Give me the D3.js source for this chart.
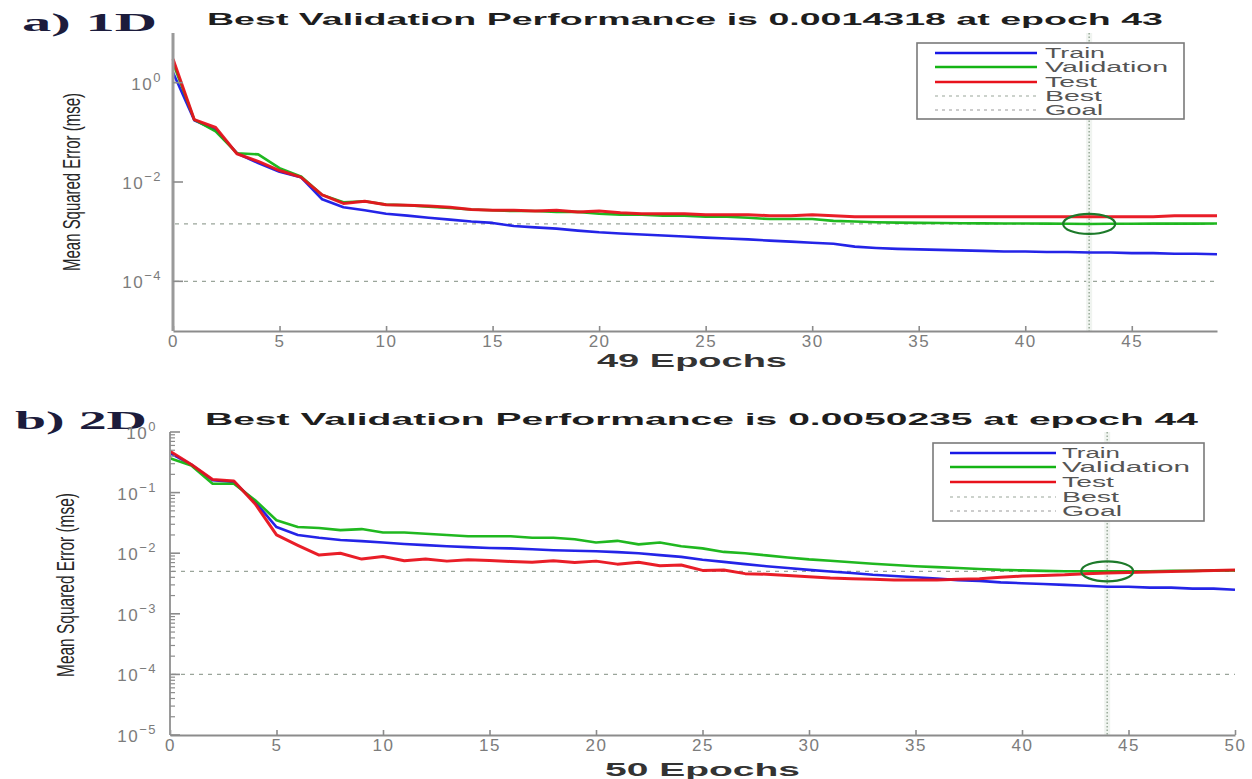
<!DOCTYPE html>
<html>
<head>
<meta charset="utf-8">
<script src="https://cdn.jsdelivr.net/npm/d3@7"></script>
<style>
  html, body { margin: 0; padding: 0; background: #fff; }
  svg { display: block; }
  text { font-family: "Liberation Sans", Arial, Helvetica, sans-serif; }
</style>
</head>
<body>
<svg id="chart" width="1252" height="779"></svg>
<script>
// ---- Panel a (1D): 49 epochs ----
const epochsA = d3.range(0, 50);
const trainA = [1.6, 0.175, 0.112, 0.038, 0.024, 0.016, 0.0125, 0.0045, 0.0031, 0.0027,
  0.0023, 0.0021, 0.0019, 0.00175, 0.0016, 0.0015, 0.0013, 0.00122, 0.00115, 0.00105,
  0.00097, 0.00092, 0.00088, 0.00084, 0.0008, 0.00076, 0.00073, 0.0007, 0.00066, 0.00063,
  0.0006, 0.00057, 0.0005, 0.00047, 0.00045, 0.00044, 0.00043, 0.00042, 0.00041, 0.0004,
  0.0004, 0.00039, 0.00039, 0.00038, 0.00038, 0.00037, 0.00037, 0.00036, 0.00036, 0.00035];
const validA = [2.5, 0.18, 0.105, 0.038, 0.036, 0.019, 0.013, 0.0055, 0.0039, 0.0041,
  0.0035, 0.0034, 0.0032, 0.003, 0.0028, 0.0027, 0.0026, 0.0026, 0.0025, 0.0025,
  0.0023, 0.0022, 0.0022, 0.0021, 0.0021, 0.002, 0.002, 0.0019, 0.0018, 0.0018,
  0.0018, 0.00165, 0.0016, 0.00155, 0.00152, 0.0015, 0.00149, 0.00148, 0.00147, 0.00146,
  0.00146, 0.00145, 0.00144, 0.0014318, 0.00144, 0.00144, 0.00145, 0.00145, 0.00145, 0.00146];
const testA = [3.0, 0.18, 0.125, 0.037, 0.026, 0.017, 0.0125, 0.0055, 0.0037, 0.0041,
  0.0035, 0.0034, 0.0033, 0.0031, 0.0028, 0.0027, 0.0027, 0.0026, 0.0027, 0.0025,
  0.0026, 0.0024, 0.0023, 0.0023, 0.0023, 0.0022, 0.0022, 0.0022, 0.0021, 0.0021,
  0.0022, 0.0021, 0.002, 0.002, 0.002, 0.002, 0.002, 0.002, 0.002, 0.002,
  0.002, 0.002, 0.002, 0.002, 0.002, 0.002, 0.002, 0.0021, 0.0021, 0.0021];
const bestEpochA = 43, bestValA = 0.0014318, goalA = 1e-4;

// ---- Panel b (2D): 50 epochs ----
const epochsB = d3.range(0, 51);
const trainB = [0.45, 0.29, 0.16, 0.15, 0.07, 0.027, 0.02, 0.018, 0.0165, 0.0158,
  0.015, 0.0142, 0.0136, 0.013, 0.0126, 0.0122, 0.012, 0.0116, 0.0112, 0.011,
  0.0108, 0.0104, 0.01, 0.0093, 0.0087, 0.0078, 0.0072, 0.0066, 0.0061, 0.0057,
  0.0053, 0.005, 0.0047, 0.0044, 0.0042, 0.004, 0.0038, 0.0036, 0.0035, 0.0033,
  0.0032, 0.0031, 0.003, 0.0029, 0.0028, 0.0028, 0.0027, 0.0027, 0.0026, 0.0026, 0.0025];
const validB = [0.37, 0.28, 0.14, 0.14, 0.075, 0.035, 0.027, 0.026, 0.024, 0.025,
  0.022, 0.022, 0.021, 0.02, 0.019, 0.019, 0.019, 0.018, 0.018, 0.017,
  0.015, 0.016, 0.014, 0.015, 0.013, 0.012, 0.0105, 0.01, 0.0092, 0.0085,
  0.0079, 0.0075, 0.0071, 0.0067, 0.0064, 0.0061, 0.0059, 0.0057, 0.0055, 0.0053,
  0.0052, 0.0051, 0.00505, 0.00503, 0.0050235, 0.00503, 0.00505, 0.0051, 0.0051, 0.0052, 0.0052];
const testB = [0.48, 0.29, 0.165, 0.155, 0.065, 0.02, 0.0135, 0.0093, 0.01, 0.008,
  0.0088, 0.0075, 0.008, 0.0074, 0.0078, 0.0076, 0.0073, 0.0071, 0.0075, 0.007,
  0.0074, 0.0066, 0.0071, 0.0062, 0.0064, 0.0052, 0.0053, 0.0046, 0.0045, 0.0043,
  0.0041, 0.0039, 0.0038, 0.0037, 0.0036, 0.0036, 0.0036, 0.0037, 0.0038, 0.004,
  0.0042, 0.0043, 0.0044, 0.0046, 0.0047, 0.0048, 0.0049, 0.005, 0.0051, 0.0052, 0.0053];
const bestEpochB = 44, bestValB = 0.0050235, goalB = 1e-4;

const legendLabels = ["Train", "Validation", "Test", "Best", "Goal"];
const seriesColors = { train: "#1818e6", valid: "#14b414", test: "#e8121c" };

const svg = d3.select("#chart");

function drawPanel(p) {
  const g = svg.append("g");
  const x = d3.scaleLinear().domain(p.xDomain).range([p.left, p.right]);
  const y = d3.scaleLog().domain(p.yDomain).range([p.bottom, p.top]);

  // panel tag
  g.append("text").attr("x", p.tagX).attr("y", p.tagY)
    .attr("textLength", p.tagW).attr("lengthAdjust", "spacingAndGlyphs")
    .style("font-family", "'Liberation Serif', 'DejaVu Serif', serif")
    .style("font-weight", "bold").style("font-size", "25px").style("fill", "#1c1c3c")
    .text(p.tag);

  // title
  g.append("text").attr("x", p.titleX).attr("y", p.titleY)
    .attr("textLength", p.titleW).attr("lengthAdjust", "spacingAndGlyphs")
    .style("font-weight", "bold").style("font-size", "17px").style("fill", "#1e1e1e")
    .text(p.title);

  // goal and best horizontal references
  [p.best, p.goal].forEach(v => {
    g.append("line").attr("x1", p.left + 2).attr("x2", p.right)
      .attr("y1", y(v)).attr("y2", y(v))
      .style("stroke", "#9aa59a").style("stroke-width", 1.3).style("stroke-dasharray", "4,5");
  });

  // best epoch vertical marker
  g.append("rect").attr("x", x(p.bestEpoch) - 3).attr("y", p.top).attr("width", 6)
    .attr("height", p.bottom - p.top).style("fill", "#f0f4f0");
  g.append("line").attr("x1", x(p.bestEpoch)).attr("x2", x(p.bestEpoch))
    .attr("y1", p.top).attr("y2", p.bottom)
    .style("stroke", "#9aab9a").style("stroke-width", 1.5).style("stroke-dasharray", "1.5,2");

  // series
  const line = d3.line().x((d, i) => x(p.epochs[i])).y(d => y(d));
  [["train", p.train, 2.6], ["valid", p.valid, 2.6], ["test", p.test, 3.0]].forEach(([k, vals, w]) => {
    g.append("path").datum(vals).attr("d", line)
      .style("fill", "none").style("stroke", seriesColors[k]).style("stroke-width", w)
      .style("stroke-linejoin", "round").style("opacity", 0.95);
  });

  // best point circle
  g.append("ellipse").attr("cx", x(p.bestEpoch)).attr("cy", y(p.best))
    .attr("rx", 26).attr("ry", 10)
    .style("fill", "none").style("stroke", "#1d7a2a").style("stroke-width", 2.2);

  // x axis
  const xAxis = d3.axisBottom(x).tickValues(p.xTicks).tickSize(0).tickPadding(4).tickFormat(d3.format("d"));
  const gx = g.append("g").attr("transform", `translate(0,${p.bottom})`).call(xAxis);
  gx.select(".domain").style("stroke", "#8c8c8c").style("stroke-width", 2);
  gx.selectAll(".tick text").style("font-size", "17px").style("fill", "#7c7c7c")
    .style("letter-spacing", "1.5px").style("font-family", "'Liberation Sans', Arial, sans-serif");
  gx.selectAll(".tick").append("line").attr("y1", 0).attr("y2", -5)
    .style("stroke", "#8c8c8c").style("stroke-width", 1.6);

  // y axis line
  g.append("line").attr("x1", p.left).attr("x2", p.left).attr("y1", p.top).attr("y2", p.bottom)
    .style("stroke", "#9a9a9a").style("stroke-width", p.yAxisWidth);

  // y ticks
  p.yMajor.forEach(e => {
    const yy = y(Math.pow(10, e));
    g.append("line").attr("x1", p.left).attr("x2", p.left + 10).attr("y1", yy).attr("y2", yy)
      .style("stroke", "#8c8c8c").style("stroke-width", 1.6);
    const t = g.append("text").attr("x", p.yLabelX).attr("y", yy + 7)
      .attr("text-anchor", "end").style("font-size", "17px").style("fill", "#7c7c7c")
      .style("letter-spacing", "1.5px");
    t.append("tspan").text("10");
    t.append("tspan").attr("dy", -8).style("font-size", "13px").text(e === 0 ? "0" : "\u2212" + Math.abs(e));
  });
  if (p.minor) {
    for (let e = Math.round(Math.log10(p.yDomain[0])); e < Math.round(Math.log10(p.yDomain[1])); e++) {
      for (let m = 2; m <= 9; m++) {
        const yy = y(m * Math.pow(10, e));
        g.append("line").attr("x1", p.left).attr("x2", p.left + 5).attr("y1", yy).attr("y2", yy)
          .style("stroke", "#8c8c8c").style("stroke-width", 1.2);
      }
    }
  }

  // y axis label: condensed by a horizontal scale so it fits the axis height
  const yt = g.append("text").attr("text-anchor", "middle")
    .style("font-family", "'Liberation Sans Narrow', 'Arial Narrow', 'Liberation Sans', sans-serif")
    .style("font-size", "23px").style("fill", "#262626")
    .text("Mean Squared Error  (mse)");
  const natural = yt.node().getComputedTextLength() || p.yTitleW;
  yt.attr("transform", `translate(${p.yTitleX},${p.yTitleY}) rotate(-90) scale(${p.yTitleW / natural},1)`);

  // x axis label
  g.append("text").attr("x", p.xTitleX).attr("y", p.xTitleY)
    .attr("textLength", p.xTitleW).attr("lengthAdjust", "spacingAndGlyphs")
    .style("font-weight", "bold").style("font-size", "18px").style("fill", "#333")
    .text(p.xTitle);

  // legend
  const L = p.legend;
  g.append("rect").attr("x", L.x).attr("y", L.y).attr("width", L.w).attr("height", L.h)
    .style("fill", "#fff").style("stroke", "#7a7a7a").style("stroke-width", 1.6);
  const legendStyles = [
    { c: seriesColors.train, w: 2.4, dash: null },
    { c: seriesColors.valid, w: 2.4, dash: null },
    { c: seriesColors.test, w: 2.4, dash: null },
    { c: "#9aa59a", w: 1.2, dash: "3,4" },
    { c: "#9a9a9a", w: 1.2, dash: "3,4" }
  ];
  legendLabels.forEach((lab, i) => {
    const yy = L.rows[i];
    const s = legendStyles[i];
    g.append("line").attr("x1", L.lx1).attr("x2", L.lx2).attr("y1", yy).attr("y2", yy)
      .style("stroke", s.c).style("stroke-width", s.w).style("stroke-dasharray", s.dash);
    g.append("text").attr("x", L.tx).attr("y", yy + 5)
      .attr("textLength", L.tw[i]).attr("lengthAdjust", "spacingAndGlyphs")
      .style("font-size", "14px").style("fill", "#555").text(lab);
  });
}

drawPanel({
  tag: "a) 1D", tagX: 22, tagY: 31, tagW: 135,
  title: "Best Validation Performance is 0.0014318 at epoch 43", titleX: 207, titleY: 25, titleW: 956,
  epochs: epochsA, train: trainA, valid: validA, test: testA,
  best: bestValA, goal: goalA, bestEpoch: bestEpochA,
  xDomain: [0, 49], left: 173, right: 1217, yDomain: [1e-5, 1e1], top: 33, bottom: 331,
  xTicks: [0, 5, 10, 15, 20, 25, 30, 35, 40, 45], yMajor: [-4, -2, 0], minor: false,
  yAxisWidth: 3, yLabelX: 162,
  yTitleX: 80, yTitleY: 182, yTitleW: 178,
  xTitle: "49 Epochs", xTitleX: 597, xTitleY: 367, xTitleW: 190,
  legend: { x: 917, y: 43, w: 267, h: 76, rows: [53, 67, 82, 96, 110], lx1: 935, lx2: 1037, tx: 1045,
    tw: [60, 123, 52, 57, 58] }
});

drawPanel({
  tag: "b) 2D", tagX: 15, tagY: 429, tagW: 132,
  title: "Best Validation Performance is 0.0050235 at epoch 44", titleX: 205, titleY: 425, titleW: 993,
  epochs: epochsB, train: trainB, valid: validB, test: testB,
  best: bestValB, goal: goalB, bestEpoch: bestEpochB,
  xDomain: [0, 50], left: 170, right: 1235, yDomain: [1e-5, 1e0], top: 432, bottom: 735,
  xTicks: [0, 5, 10, 15, 20, 25, 30, 35, 40, 45, 50], yMajor: [-5, -4, -3, -2, -1, 0], minor: true,
  yAxisWidth: 2, yLabelX: 157,
  yTitleX: 74, yTitleY: 585, yTitleW: 184,
  xTitle: "50 Epochs", xTitleX: 605, xTitleY: 776, xTitleW: 195,
  legend: { x: 933, y: 443, w: 271, h: 78, rows: [453, 467, 482, 497, 511], lx1: 950, lx2: 1056, tx: 1062,
    tw: [58, 128, 52, 57, 60] }
});
</script>
</body>
</html>
